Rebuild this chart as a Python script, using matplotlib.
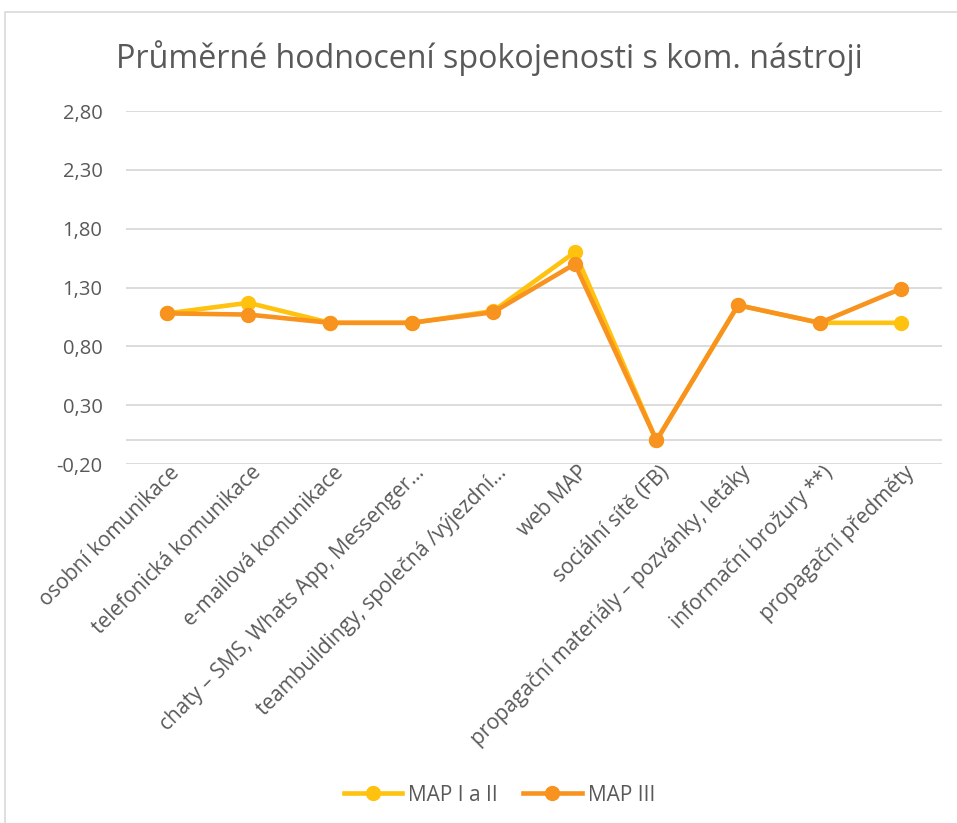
"""Průměrné hodnocení spokojenosti s kom. nástroji - line chart"""

import matplotlib
matplotlib.use("Agg")
import matplotlib.pyplot as plt
import matplotlib.transforms as mtransforms
from matplotlib.patches import Rectangle
from matplotlib.ticker import FuncFormatter

plt.rcParams["font.family"] = ["Open Sans", "DejaVu Sans"]

# Data
categories = [
    "osobní komunikace",
    "telefonická komunikace",
    "e-mailová komunikace",
    "chaty – SMS, Whats App, Messenger…",
    "teambuildingy, společná /výjezdní…",
    "web MAP",
    "sociální sítě (FB)",
    "propagační materiály – pozvánky, letáky",
    "informační brožury **)",
    "propagační předměty",
]
map_i_ii = [1.08, 1.17, 1.00, 1.00, 1.10, 1.60, 0.00, 1.15, 1.00, 1.00]
map_iii = [1.08, 1.07, 1.00, 1.00, 1.09, 1.50, 0.00, 1.15, 1.00, 1.29]
y_ticks = [-0.20, 0.30, 0.80, 1.30, 1.80, 2.30, 2.80]

COLOR_YELLOW = "#FFC20E"
COLOR_ORANGE = "#F7931E"
COLOR_GRID = "#D9D9D9"
COLOR_TEXT = "#595959"

fig = plt.figure(figsize=(9.57, 8.23), dpi=100)

# Light border around the chart area
fig.patches.append(
    Rectangle((0.005, -0.01), 1.1, 0.996, transform=fig.transFigure,
              fill=False, edgecolor=COLOR_GRID, linewidth=1.2)
)

ax = fig.add_axes([0.1317, 0.4362, 0.8527, 0.4289])
x = list(range(len(categories)))

ax.plot(x, map_i_ii, color=COLOR_YELLOW, linewidth=3.3, marker="o",
        markersize=10, label="MAP I a II", zorder=3)
ax.plot(x, map_iii, color=COLOR_ORANGE, linewidth=3.3, marker="o",
        markersize=10, label="MAP III", zorder=4)

ax.set_xlim(-0.5, len(categories) - 0.5)
ax.set_ylim(-0.2, 2.8)
ax.set_yticks(y_ticks)
ax.yaxis.set_major_formatter(FuncFormatter(lambda v, _: f"{v:.2f}".replace(".", ",")))
ax.grid(axis="y", color=COLOR_GRID, linewidth=1.3)
ax.axhline(0, color=COLOR_GRID, linewidth=1.3, zorder=1)
ax.set_axisbelow(True)
for side in ["top", "right", "left", "bottom"]:
    ax.spines[side].set_visible(False)
ax.tick_params(axis="both", length=0, labelcolor=COLOR_TEXT)
ax.tick_params(axis="y", pad=17, labelsize=14.5)

ax.set_xticks(x)
ax.set_xticklabels(categories, rotation=45, ha="right", va="center",
                   rotation_mode="anchor", fontsize=15)
ax.tick_params(axis="x", pad=4)

# Shift the rotated labels a little to the right, as in the reference
shift = mtransforms.ScaledTranslation(10 / 100, 0, fig.dpi_scale_trans)
for label in ax.get_xticklabels():
    label.set_transform(label.get_transform() + shift)

fig.text(0.511, 0.93, "Průměrné hodnocení spokojenosti s kom. nástroji",
         ha="center", va="center", fontsize=23.2, color=COLOR_TEXT)

fig.legend(loc="center", bbox_to_anchor=(0.522, 0.034), ncol=2, frameon=False,
           fontsize=15, labelcolor=COLOR_TEXT, handlelength=2.8,
           columnspacing=1.2, handletextpad=0.3)

fig.savefig("out.png", dpi=100)
